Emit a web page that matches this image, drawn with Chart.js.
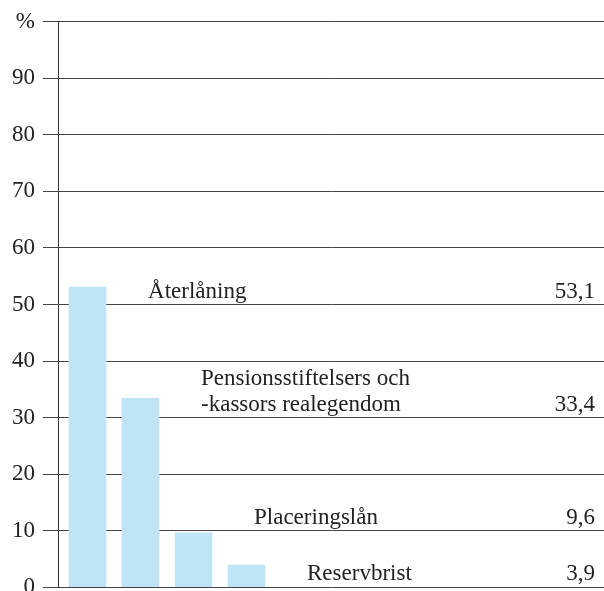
<!DOCTYPE html>
<html>
<head>
<meta charset="utf-8">
<script src="https://cdn.jsdelivr.net/npm/chart.js@4.4.0/dist/chart.umd.min.js"></script>
<style>
    html, body { margin: 0; padding: 0; background: #fff; overflow: hidden; }
    #wrap { width: 604px; height: 609px; }
</style>
</head>
<body>
<div id="wrap"><canvas id="chart"></canvas></div>
<script>
// Data
const categories = [
    ['Återlåning'],
    ['Pensionsstiftelsers och', '-kassors realegendom'],
    ['Placeringslån'],
    ['Reservbrist']
];
const values = [53.1, 33.4, 9.6, 3.9];
const yTicks = [0, 10, 20, 30, 40, 50, 60, 70, 80, 90, 100];

const FONT = '"Liberation Serif", "Times New Roman", serif';
const TEXT = '#222';

// Labels and values drawn as a table to the right of the bars,
// each row sitting just above the nearest gridline
const labelPlugin = {
    id: 'rowLabels',
    afterDatasetsDraw(chart) {
        const ctx = chart.ctx;
        const meta = chart.getDatasetMeta(0);
        const y = chart.scales.y;
        const right = chart.chartArea.right - 9;
        ctx.save();
        ctx.fillStyle = TEXT;
        ctx.font = '23px ' + FONT;
        ctx.textBaseline = 'middle';
        values.forEach((v, i) => {
            const bar = meta.data[i];
            const x = bar.x + bar.width / 2 + 42;
            const base = y.getPixelForValue(Math.round(v / 10) * 10) - 13;
            const lines = categories[i];
            ctx.textAlign = 'left';
            lines.forEach((line, j) => {
                ctx.fillText(line, x, base - (lines.length - 1 - j) * 26);
            });
            ctx.textAlign = 'right';
            ctx.fillText(v.toFixed(1).replace('.', ','), right, base);
        });
        ctx.restore();
    }
};

new Chart(document.getElementById('chart'), {
    type: 'bar',
    data: {
        datasets: [{
            data: values.map((v, i) => ({ x: i + 1, y: v })),
            backgroundColor: '#bfe4f6',
            borderWidth: 0,
            barThickness: 37
        }]
    },
    options: {
        responsive: true,
        maintainAspectRatio: false,
        animation: false,
        layout: { padding: { top: 7, right: 0, left: 0, bottom: 0 } },
        plugins: {
            legend: { display: false },
            tooltip: { enabled: false }
        },
        scales: {
            x: {
                type: 'linear',
                display: false,
                offset: false,
                min: 0.443,
                max: 10.745
            },
            y: {
                min: 0,
                max: 100,
                afterBuildTicks: scale => { scale.ticks = yTicks.map(v => ({ value: v })); },
                afterFit: scale => { scale.width = 58; },
                border: { display: true, color: '#333', width: 1 },
                grid: {
                    color: '#444',
                    lineWidth: 1,
                    tickLength: 15,
                    drawTicks: true
                },
                ticks: {
                    padding: 8,
                    color: TEXT,
                    font: { family: FONT, size: 23 },
                    callback: v => v === 100 ? '%' : v
                }
            }
        }
    },
    plugins: [labelPlugin]
});
</script>
</body>
</html>
